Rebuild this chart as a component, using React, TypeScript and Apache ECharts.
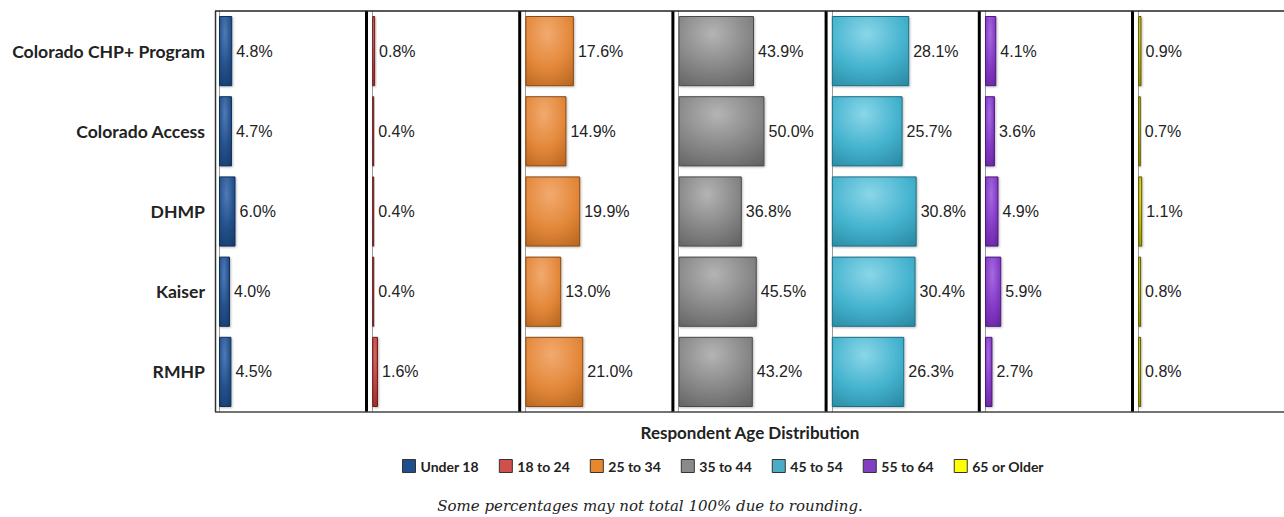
import React, { useEffect, useRef } from "react";
import * as echarts from "echarts";

const categories = ["Colorado CHP+ Program", "Colorado Access", "DHMP", "Kaiser", "RMHP"];
const seriesNames = ["Under 18", "18 to 24", "25 to 34", "35 to 44", "45 to 54", "55 to 64", "65 or Older"];
const under18 = [4.8, 4.7, 6.0, 4.0, 4.5];
const age18to24 = [0.8, 0.4, 0.4, 0.4, 1.6];
const age25to34 = [17.6, 14.9, 19.9, 13.0, 21.0];
const age35to44 = [43.9, 50.0, 36.8, 45.5, 43.2];
const age45to54 = [28.1, 25.7, 30.8, 30.4, 26.3];
const age55to64 = [4.1, 3.6, 4.9, 5.9, 2.7];
const age65plus = [0.9, 0.7, 1.1, 0.8, 0.8];
const panelMax = [53, 40, 53, 85, 53, 53, 40];

const allData = [under18, age18to24, age25to34, age35to44, age45to54, age55to64, age65plus];

const palette = [
  { light: "#4f7ab5", base: "#23508a", dark: "#173a68", border: "#10305a", legend: "#1f4e8c" },
  { light: "#d66a66", base: "#b8403c", dark: "#8c2a27", border: "#6e1f1d", legend: "#d0504d" },
  { light: "#f2aa70", base: "#e3883a", dark: "#b86620", border: "#8a4a16", legend: "#e8882e" },
  { light: "#b4b4b4", base: "#878787", dark: "#626262", border: "#4a4a4a", legend: "#8a8a8a" },
  { light: "#8ad6e8", base: "#45b3cf", dark: "#2a8aa3", border: "#1f6d80", legend: "#4bacc6" },
  { light: "#a56ae0", base: "#8439c6", dark: "#62259a", border: "#4c1c78", legend: "#8040c0" },
  { light: "#e6e040", base: "#bdb600", dark: "#8f8a00", border: "#5e5a00", legend: "#ffff00" },
];

const PANEL_LEFT0 = 219;
const PANEL_STEP = 153.2;
const PANEL_W = 146;
const TOP = 11;
const BOTTOM = 412;

export default function App() {
  const ref = useRef<HTMLDivElement>(null);
  useEffect(() => {
    document.body.style.margin = "0";
    if (!ref.current) return;
    const chart = echarts.init(ref.current, null, { renderer: "svg" });

    const grids: any[] = [];
    const xAxes: any[] = [];
    const yAxes: any[] = [];
    const series: any[] = [];
    const graphics: any[] = [];

    allData.forEach((data, i) => {
      const left = PANEL_LEFT0 + PANEL_STEP * i;
      grids.push({ left, top: TOP, width: PANEL_W, height: BOTTOM - TOP, containLabel: false });
      xAxes.push({
        type: "value",
        gridIndex: i,
        min: 0,
        max: panelMax[i],
        show: false,
      });
      yAxes.push({
        type: "category",
        gridIndex: i,
        data: categories,
        inverse: true,
        axisTick: { show: false },
        axisLine: { show: true, lineStyle: { color: "#9a9a9a", width: 1 } },
        axisLabel: i === 0
          ? { show: true, margin: 14, fontFamily: "Lato", fontWeight: "bold", fontSize: 17.6, color: "#222" }
          : { show: false },
        splitLine: { show: false },
      });
      const c = palette[i];
      series.push({
        type: "bar",
        name: seriesNames[i],
        xAxisIndex: i,
        yAxisIndex: i,
        data,
        barCategoryGap: "12.5%",
        barMinHeight: 2,
        itemStyle: {
          color: {
            type: "radial",
            x: 0.45,
            y: 0.25,
            r: 0.9,
            colorStops: [
              { offset: 0, color: c.light },
              { offset: 0.55, color: c.base },
              { offset: 1, color: c.dark },
            ],
          },
          borderColor: c.border,
          borderWidth: 1,
          shadowColor: "rgba(0,0,0,0.25)",
          shadowBlur: 2,
          shadowOffsetX: 1,
          shadowOffsetY: 1,
        },
        label: {
          show: true,
          position: "right",
          distance: 4,
          formatter: (p: any) => p.value.toFixed(1) + "%",
          fontFamily: "Liberation Sans",
          fontSize: 16,
          color: "#222",
        },
      });
      if (i < allData.length - 1) {
        const sx = left + PANEL_W + 1.5;
        graphics.push({
          type: "line",
          shape: { x1: sx, y1: TOP, x2: sx, y2: BOTTOM },
          style: { stroke: "#000", lineWidth: 3 },
          z: 10,
        });
      }
    });

    graphics.push({
      type: "line",
      shape: { x1: 215, y1: TOP, x2: 1284, y2: TOP },
      style: { stroke: "#222", lineWidth: 1.5 },
      z: 10,
    });
    graphics.push({
      type: "line",
      shape: { x1: 215, y1: BOTTOM, x2: 1284, y2: BOTTOM },
      style: { stroke: "#444", lineWidth: 1.5 },
      z: 10,
    });
    graphics.push({
      type: "line",
      shape: { x1: 215.5, y1: TOP, x2: 215.5, y2: BOTTOM },
      style: { stroke: "#333", lineWidth: 1.5 },
      z: 10,
    });
    graphics.push({
      type: "text",
      x: 750,
      y: 432,
      style: {
        text: "Respondent Age Distribution",
        font: "bold 17px Lato",
        fill: "#222",
        align: "center",
        verticalAlign: "middle",
      },
    });
    graphics.push({
      type: "text",
      x: 650,
      y: 506,
      style: {
        text: "Some percentages may not total 100% due to rounding.",
        font: "italic 15px 'DejaVu Serif'",
        fill: "#222",
        align: "center",
        verticalAlign: "middle",
      },
    });

    chart.setOption({
      animation: false,
      grid: grids,
      xAxis: xAxes,
      yAxis: yAxes,
      series,
      legend: {
        left: 397,
        top: 454,
        itemWidth: 13,
        itemHeight: 13,
        itemGap: 20,
        icon: "rect",
        textStyle: { fontFamily: "Lato", fontWeight: "bold", fontSize: 14, color: "#222" },
        data: seriesNames.map((n, i) => ({
          name: n,
          itemStyle: { color: palette[i].legend, borderColor: "#333", borderWidth: 1 },
        })),
      },
      graphic: graphics,
    });
    return () => chart.dispose();
  }, []);
  return <div ref={ref} style={{ width: 1284, height: 517 }} />;
}
